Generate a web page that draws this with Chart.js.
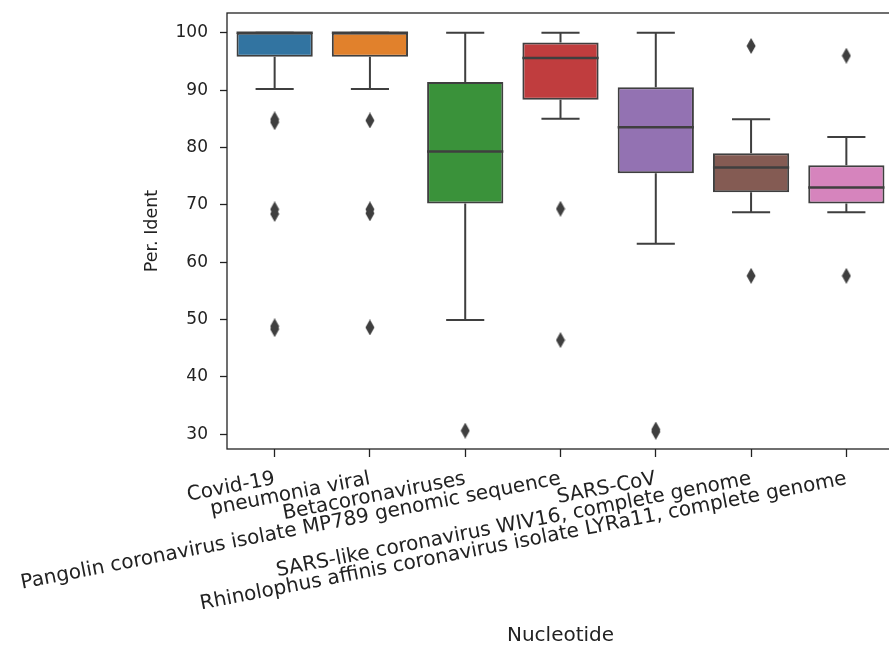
<!DOCTYPE html>
<html>
<head>
<meta charset="utf-8">
<script src="https://cdn.jsdelivr.net/npm/chart.js@4.4.0/dist/chart.umd.min.js"></script>
<style>
    html, body { margin: 0; padding: 0; background: #fff; overflow: hidden; }
    #wrap { width: 900px; height: 649px; }
</style>
</head>
<body>
<div id="wrap"><canvas id="boxCanvas" width="900" height="649"></canvas></div>
<script>
// Box plot data
const categories = [
    'Covid-19',
    'pneumonia viral',
    'Betacoronaviruses',
    'Pangolin coronavirus isolate MP789 genomic sequence',
    'SARS-CoV',
    'SARS-like coronavirus WIV16, complete genome',
    'Rhinolophus affinis coronavirus isolate LYRa11, complete genome'
];
const q1Values = [95.8, 95.8, 70.2, 88.3, 75.5, 72.2, 70.2];
const medianValues = [100, 100, 79.3, 95.6, 83.5, 76.5, 73.0];
const q3Values = [100, 100, 91.4, 98.3, 90.5, 79.0, 76.9];
const whiskerLow = [90.2, 90.2, 49.9, 85.0, 63.2, 68.7, 68.7];
const whiskerHigh = [100, 100, 100, 100, 100, 84.9, 81.8];
const outlierValues = [
    [84.4, 84.9, 68.4, 69.2, 48.3, 48.8],
    [84.7, 68.5, 69.2, 48.6],
    [30.6],
    [69.3, 46.4],
    [30.4, 30.8],
    [97.7, 57.6],
    [96.0, 57.6]
];
const yTicks = [30, 40, 50, 60, 70, 80, 90, 100];

const boxColors = ['#3274a1', '#e1812c', '#3a923a', '#c03d3e', '#9372b2', '#845b53', '#d684bd'];
const lineGray = '#3f3f3f';
const textColor = '#222';

// thin diamond marker like matplotlib 'd'
function makeDiamond() {
    const c = document.createElement('canvas');
    c.width = 10;
    c.height = 16;
    const g = c.getContext('2d');
    g.fillStyle = lineGray;
    g.beginPath();
    g.moveTo(5, 0);
    g.lineTo(9.5, 8);
    g.lineTo(5, 16);
    g.lineTo(0.5, 8);
    g.closePath();
    g.fill();
    return c;
}

const outlierPoints = [];
outlierValues.forEach((vals, i) => {
    vals.forEach(v => outlierPoints.push({ x: categories[i], y: v }));
});

// whiskers, caps, medians and the frame
const boxExtras = {
    id: 'boxExtras',
    afterDatasetsDraw(chart) {
        const ctx = chart.ctx;
        const yScale = chart.scales.y;
        const meta = chart.getDatasetMeta(0);
        ctx.save();
        ctx.strokeStyle = lineGray;
        meta.data.forEach((bar, i) => {
            const x = bar.x;
            const half = bar.width / 2;
            const capHalf = half / 2;
            const yQ1 = yScale.getPixelForValue(q1Values[i]);
            const yQ3 = yScale.getPixelForValue(q3Values[i]);
            const yLo = yScale.getPixelForValue(whiskerLow[i]);
            const yHi = yScale.getPixelForValue(whiskerHigh[i]);
            const yMed = yScale.getPixelForValue(medianValues[i]);

            ctx.lineWidth = 2;
            ctx.beginPath();
            ctx.moveTo(x, yQ1);
            ctx.lineTo(x, yLo);
            ctx.moveTo(x - capHalf, yLo);
            ctx.lineTo(x + capHalf, yLo);
            ctx.moveTo(x, yQ3);
            ctx.lineTo(x, yHi);
            ctx.moveTo(x - capHalf, yHi);
            ctx.lineTo(x + capHalf, yHi);
            ctx.stroke();

            ctx.lineWidth = 2.5;
            ctx.beginPath();
            ctx.moveTo(x - half, yMed);
            ctx.lineTo(x + half, yMed);
            ctx.stroke();
        });
        ctx.restore();
    },
    afterDraw(chart) {
        const a = chart.chartArea;
        const ctx = chart.ctx;
        ctx.save();
        ctx.strokeStyle = '#222';
        ctx.lineWidth = 1.3;
        ctx.strokeRect(a.left, a.top, a.right - a.left, a.bottom - a.top);
        ctx.restore();
    }
};

document.addEventListener('DOMContentLoaded', function () {
    const ctx = document.getElementById('boxCanvas');
    new Chart(ctx, {
        type: 'bar',
        data: {
            labels: categories,
            datasets: [{
                label: 'box',
                data: categories.map((c, i) => [q1Values[i], q3Values[i]]),
                backgroundColor: boxColors,
                borderColor: lineGray,
                borderWidth: 2,
                borderSkipped: false,
                barPercentage: 0.8,
                categoryPercentage: 1.0
            },
            {
                type: 'line',
                label: 'outliers',
                data: outlierPoints,
                showLine: false,
                pointStyle: makeDiamond(),
                pointRadius: 5,
                pointHoverRadius: 5
            }]
        },
        options: {
            responsive: false,
            animation: false,
            layout: {
                padding: { left: 140, right: 3, top: 13, bottom: 0 }
            },
            plugins: {
                legend: { display: false },
                tooltip: { enabled: false }
            },
            scales: {
                x: {
                    afterFit: s => { s.height = 200; },
                    grid: {
                        display: true,
                        offset: false,
                        drawOnChartArea: false,
                        tickLength: 8,
                        tickColor: '#222',
                        tickWidth: 1.3
                    },
                    border: { display: false },
                    ticks: {
                        autoSkip: false,
                        maxRotation: 11,
                        minRotation: 11,
                        padding: 10,
                        color: textColor,
                        font: { family: 'DejaVu Sans', size: 20 }
                    },
                    title: {
                        display: true,
                        text: 'Nucleotide',
                        color: textColor,
                        padding: { top: 0, bottom: 1 },
                        font: { family: 'DejaVu Sans', size: 20 }
                    }
                },
                y: {
                    min: 27.4,
                    max: 103.45,
                    afterFit: s => {
                        s.width = 227 - 140;
                        s.paddingTop = 0;
                        s.paddingBottom = 0;
                    },
                    afterBuildTicks: s => { s.ticks = yTicks.map(v => ({ value: v })); },
                    grid: {
                        display: true,
                        drawOnChartArea: false,
                        tickLength: 7,
                        tickColor: '#222',
                        tickWidth: 1.3
                    },
                    border: { display: false },
                    ticks: {
                        padding: 12,
                        color: textColor,
                        font: { family: 'DejaVu Sans', size: 17 }
                    },
                    title: {
                        display: true,
                        text: 'Per. Ident',
                        color: textColor,
                        padding: { top: 2, bottom: 0 },
                        font: { family: 'DejaVu Sans', size: 17.5 }
                    }
                }
            }
        },
        plugins: [boxExtras]
    });
});
</script>
</body>
</html>
